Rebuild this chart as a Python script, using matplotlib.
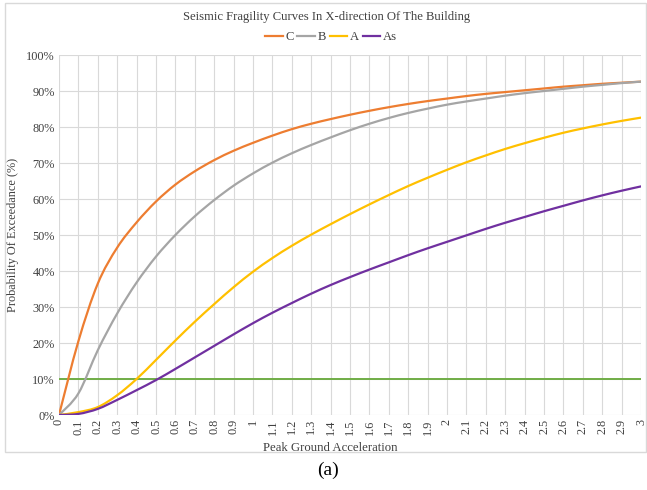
import matplotlib
matplotlib.use("Agg")
import matplotlib.pyplot as plt
from matplotlib.patches import Rectangle, PathPatch
from matplotlib.path import Path
from matplotlib.lines import Line2D

# ---- data ----
pga_labels = ["0", "0.1", "0.2", "0.3", "0.4", "0.5", "0.6", "0.7", "0.8", "0.9", "1",
              "1.1", "1.2", "1.3", "1.4", "1.5", "1.6", "1.7", "1.8", "1.9", "2",
              "2.1", "2.2", "2.3", "2.4", "2.5", "2.6", "2.7", "2.8", "2.9", "3"]

C = [0, 20.5, 36.5, 46.5, 53.5, 59.3, 64.0, 67.7, 70.8, 73.4, 75.6, 77.6, 79.4, 80.9, 82.2,
     83.4, 84.5, 85.5, 86.4, 87.2, 87.9, 88.6, 89.2, 89.7, 90.2, 90.7, 91.2, 91.6, 92.0, 92.3, 92.6]
B = [0, 6.0, 18.0, 28.2, 36.8, 44.0, 50.0, 55.2, 59.7, 63.7, 67.1, 70.1, 72.7, 75.0, 77.1,
     79.1, 80.9, 82.5, 83.9, 85.1, 86.2, 87.1, 87.9, 88.7, 89.4, 90.0, 90.6, 91.2, 91.7, 92.2, 92.6]
A = [0, 0.8, 2.2, 5.5, 10.0, 15.3, 20.7, 25.9, 30.8, 35.5, 39.8, 43.6, 47.0, 50.1, 53.0,
     55.8, 58.5, 61.1, 63.6, 65.9, 68.1, 70.2, 72.1, 73.9, 75.5, 77.0, 78.4, 79.6, 80.7, 81.7, 82.6]
As = [0, 0.3, 1.7, 4.2, 6.9, 9.7, 12.8, 16.0, 19.2, 22.4, 25.5, 28.4, 31.1, 33.7, 36.1,
      38.3, 40.4, 42.4, 44.4, 46.3, 48.1, 49.9, 51.7, 53.4, 55.0, 56.6, 58.1, 59.6, 61.0, 62.3, 63.5]
threshold = [10] * len(pga_labels)

series_names = ["C", "B", "A", "As"]
series_values = [C, B, A, As]
series_colors = ["#ED7D31", "#A5A5A5", "#FFC000", "#7030A0"]

plt.rcParams['font.family'] = ['Liberation Serif', 'DejaVu Serif']
txt = "#404040"


def smooth_path(xs, ys):
    """Excel-style smoothed line: cubic Bezier segments through the data points."""
    n = len(xs)
    verts = [(xs[0], ys[0])]
    codes = [Path.MOVETO]
    for i in range(n - 1):
        x0, y0 = (xs[i - 1], ys[i - 1]) if i > 0 else (xs[i], ys[i])
        x1, y1 = xs[i], ys[i]
        x2, y2 = xs[i + 1], ys[i + 1]
        x3, y3 = (xs[i + 2], ys[i + 2]) if i + 2 < n else (x2, y2)
        verts += [(x1 + (x2 - x0) / 6, y1 + (y2 - y0) / 6),
                  (x2 - (x3 - x1) / 6, y2 - (y3 - y1) / 6),
                  (x2, y2)]
        codes += [Path.CURVE4, Path.CURVE4, Path.CURVE4]
    return Path(verts, codes)


fig = plt.figure(figsize=(6.47, 4.90), dpi=100)
fig.patches.append(Rectangle((5/647, 1 - 452/490), 641/647, 449/490, transform=fig.transFigure,
                             fill=False, edgecolor="#D9D9D9", linewidth=1.0))

ax = fig.add_axes([59/647, 1 - 415/490, 582/647, 360/490])
x = list(range(len(pga_labels)))
handles = []
for name, vals, col in zip(series_names, series_values, series_colors):
    ax.add_patch(PathPatch(smooth_path(x, vals), fill=False, edgecolor=col, lw=1.6,
                           capstyle='round', joinstyle='round', zorder=3))
    handles.append(Line2D([], [], color=col, lw=1.6, label=name))
ax.plot(x, threshold, color="#70AD47", lw=1.4, zorder=2)

ax.set_xlim(0, len(pga_labels) - 1)
ax.set_ylim(0, 100)
ax.set_xticks(x)
ax.set_xticklabels(pga_labels, rotation=90, fontsize=8.8, color=txt)
ax.set_yticks(range(0, 101, 10))
ax.set_yticklabels([f"{v}%" for v in range(0, 101, 10)], fontsize=8.8, color=txt)
ax.tick_params(length=0, pad=3)
ax.grid(True, color="#D9D9D9", lw=0.8)
ax.set_axisbelow(True)
for s in ax.spines.values():
    s.set_visible(False)

ax.set_xlabel("Peak Ground Acceleration", fontsize=9.2, color=txt)
ax.xaxis.set_label_coords((330 - 59) / 582, -0.075)
ax.set_ylabel("Probability Of Exceedance (%)", fontsize=8.8, color=txt, labelpad=5)

fig.text(327/647, 1 - 17/490, "Seismic Fragility Curves In X-direction Of The Building",
         ha="center", va="center", fontsize=9.1, color=txt)
fig.legend(handles=handles, loc="center", bbox_to_anchor=(331/647, 1 - 37/490), ncol=4,
           frameon=False, fontsize=9.1, handlelength=1.4, handletextpad=0.2,
           columnspacing=0.3, labelcolor=txt)
fig.text(328/647, 1 - 470/490, "(a)", ha="center", va="center", fontsize=14, color="black")

fig.savefig("out.png", dpi=100, facecolor="white")
